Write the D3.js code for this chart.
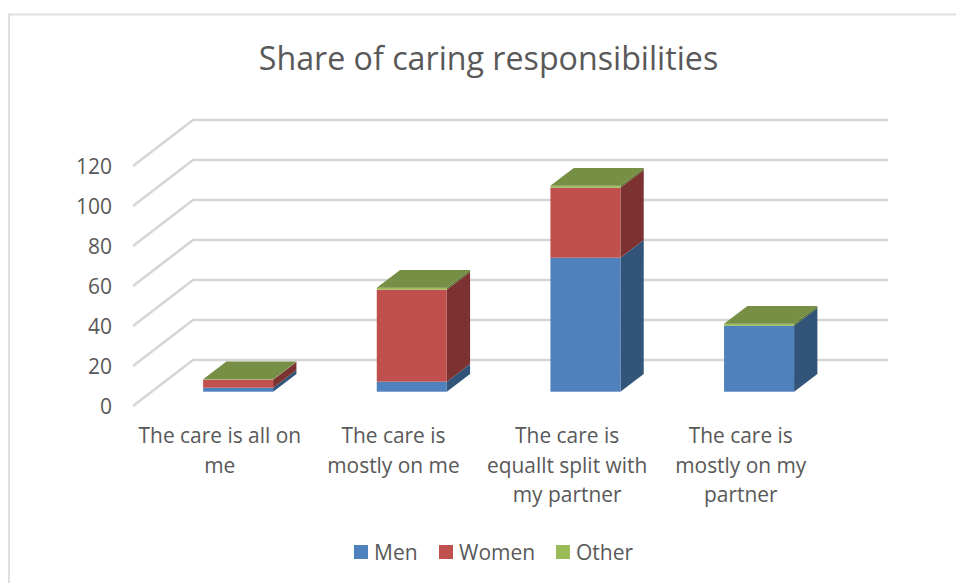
<!DOCTYPE html>
<html><head><meta charset="utf-8">
<script src="https://cdn.jsdelivr.net/npm/d3@7"></script>
<style>html,body{margin:0;background:#fff}svg{display:block}text{font-family:"Open Sans",sans-serif;fill:#595959}</style>
</head><body><svg id="c" width="956" height="583"></svg>
<script>
const title = "Share of caring responsibilities";
const categories = [["The care is all on","me"],["The care is","mostly on me"],["The care is","equallt split with","my partner"],["The care is","mostly on my","partner"]];
const men = [2, 5, 67, 33];
const women = [4, 46, 35, 0];
const other = [0.2, 1, 1, 1];
const seriesNames = ["Men","Women","Other"];
const ticks = [0,20,40,60,80,100,120];
const front = ["#4f81bd","#c0504d","#9bbb59"];
const side = ["#325479","#7b3231","#5c7032"];
const topCol = "#778e45";

const svg = d3.select("#c");
const keys = categories.map((c,i)=>i);
const dx = 60, dy = 46;           // floor depth
const barDx = 23.3, barDy = 17.8; // bar depth
const x = d3.scaleBand().domain(keys).range([133,827.6]).padding(0);
const y = d3.scaleLinear().domain([0,120]).range([406,166]);
const barW = 70;
const ox = 18.3, oy = 14.3;

// frame (left and top edges only are visible)
svg.append("path").attr("d","M9 583V14.5H956").attr("fill","none").attr("stroke","#e0e0e0").attr("stroke-width",2);

// gridlines
const grid = svg.append("g").attr("fill","none").attr("stroke","#d6d6d6").attr("stroke-width",2.6);
ticks.forEach(t=>{
  grid.append("path").attr("d",`M${x.range()[0]} ${y(t)}L${x.range()[0]+dx} ${y(t)-dy}H${888}`);
});

// y tick labels
svg.append("g").selectAll("text").data(ticks).join("text")
  .attr("x",112).attr("y",d=>y(d)).attr("dy","0.36em").attr("text-anchor","end")
  .attr("font-size",21).text(d=>d);

// stacked bars
const stack = d3.stack().keys([0,1,2]).value((d,k)=>[men,women,other][k][d])(keys);
const bars = svg.append("g");
keys.forEach(i=>{
  const l = x(i)+x.bandwidth()/2-barW/2+ox, r = l+barW;
  const yb = v=>y(v)-oy;
  const g = bars.append("g");
  stack.forEach((layer,k)=>{
    const [a,b] = layer[i];
    if(b-a<=0) return;
    g.append("path").attr("fill",side[k])
      .attr("d",`M${r} ${yb(a)}L${r+barDx} ${yb(a)-barDy}V${yb(b)-barDy}L${r} ${yb(b)}Z`);
    g.append("rect").attr("x",l).attr("y",yb(b)).attr("width",barW).attr("height",yb(a)-yb(b)).attr("fill",front[k]);
  });
  const t = stack[2][i][1];
  g.append("path").attr("fill",topCol)
    .attr("d",`M${l} ${yb(t)}L${l+barDx} ${yb(t)-barDy}H${r+barDx}L${r} ${yb(t)}Z`);
});

// category labels
const cat = svg.append("g");
categories.forEach((lines,i)=>{
  const t = cat.append("text").attr("text-anchor","middle").attr("font-size",20.9);
  lines.forEach((s,j)=>t.append("tspan").attr("x",x(i)+x.bandwidth()/2).attr("y",443+j*29.6).text(s));
});

// title
svg.append("text").attr("x",488.5).attr("y",70).attr("text-anchor","middle").attr("font-size",32.2).text(title);

// legend
const lx = [354,439,556];
const leg = svg.append("g");
seriesNames.forEach((n,i)=>{
  leg.append("rect").attr("x",lx[i]).attr("y",545).attr("width",14).attr("height",14).attr("fill",front[i]);
  leg.append("text").attr("x",lx[i]+20).attr("y",559.5).attr("font-size",21).text(n);
});
</script></body></html>
